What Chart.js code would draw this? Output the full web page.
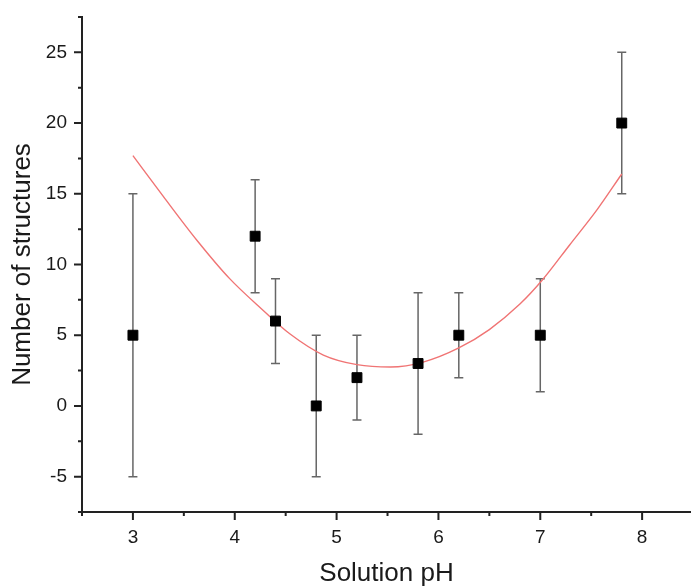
<!DOCTYPE html>
<html>
<head>
<meta charset="utf-8">
<script src="https://cdn.jsdelivr.net/npm/chart.js@4.4.1/dist/chart.umd.min.js"></script>
<style>
html,body{margin:0;padding:0;background:#fff;overflow:hidden;}
#wrap{width:691px;height:588px;}
</style>
</head>
<body>
<div id="wrap"><canvas id="c" width="691" height="588"></canvas></div>
<script>
// ---- data ----
const phValues = [3.0, 4.2, 4.4, 4.8, 5.2, 5.8, 6.2, 7.0, 7.8];
const structureCounts = [5, 12, 6, 0, 2, 3, 5, 5, 20];
const errorLow = [-5, 8, 3, -5, -1, -2, 2, 1, 15];
const errorHigh = [15, 16, 9, 5, 5, 8, 8, 9, 25];

// fitted curve
const fitX = [3.0, 3.3, 3.63, 3.95, 4.28, 4.54, 4.87, 5.2, 5.53, 5.85, 6.2, 6.5, 6.8, 7.02, 7.29, 7.56, 7.8];
const fitY = [17.7, 14.8, 11.7, 9.0, 6.75, 5.1, 3.6, 2.92, 2.75, 3.1, 4.1, 5.4, 7.2, 8.9, 11.4, 13.9, 16.4];

// axis tick labels
const xTickValues = [3, 4, 5, 6, 7, 8];
const yTickValues = [-5, 0, 5, 10, 15, 20, 25];
const xMinorTicks = [2.5, 3.5, 4.5, 5.5, 6.5, 7.5];
const yMinorTicks = [-7.5, -2.5, 2.5, 7.5, 12.5, 17.5, 22.5, 27.5];

const xTitle = 'Solution pH';
const yTitle = 'Number of structures';

const FONT = "'Liberation Sans', Arial, sans-serif";
const AXIS_COLOR = '#222';

const errorBarPlugin = {
  id: 'errorBars',
  beforeDatasetsDraw(chart) {
    const {ctx, scales: {x, y}} = chart;
    ctx.save();
    ctx.strokeStyle = '#666';
    ctx.lineWidth = 1.5;
    const cap = 4.5;
    phValues.forEach((v, i) => {
      const px = x.getPixelForValue(v);
      const pLo = y.getPixelForValue(errorLow[i]);
      const pHi = y.getPixelForValue(errorHigh[i]);
      ctx.beginPath();
      ctx.moveTo(px, pLo); ctx.lineTo(px, pHi);
      ctx.moveTo(px - cap, pLo); ctx.lineTo(px + cap, pLo);
      ctx.moveTo(px - cap, pHi); ctx.lineTo(px + cap, pHi);
      ctx.stroke();
    });
    ctx.restore();
  }
};

const tickMarkPlugin = {
  id: 'tickMarks',
  afterDraw(chart) {
    const {ctx, chartArea, scales: {x, y}} = chart;
    ctx.save();
    ctx.strokeStyle = AXIS_COLOR;
    ctx.lineWidth = 2;
    ctx.beginPath();
    const b = chartArea.bottom, l = chartArea.left;
    xTickValues.forEach(v => { const p = x.getPixelForValue(v); ctx.moveTo(p, b); ctx.lineTo(p, b + 8); });
    xMinorTicks.forEach(v => { const p = x.getPixelForValue(v); ctx.moveTo(p, b); ctx.lineTo(p, b + 4); });
    yTickValues.forEach(v => { const p = y.getPixelForValue(v); ctx.moveTo(l, p); ctx.lineTo(l - 8, p); });
    yMinorTicks.forEach(v => { const p = y.getPixelForValue(v); ctx.moveTo(l, p); ctx.lineTo(l - 4, p); });
    ctx.stroke();
    ctx.restore();
  }
};

function zeroPad(s) { s.paddingLeft = 0; s.paddingRight = 0; s.paddingTop = 0; s.paddingBottom = 0; }

new Chart(document.getElementById('c'), {
  type: 'scatter',
  data: {
    datasets: [
      {
        label: 'fit',
        data: fitX.map((v, i) => ({x: v, y: fitY[i]})),
        showLine: true,
        borderColor: '#f07474',
        borderWidth: 1.4,
        pointRadius: 0,
        cubicInterpolationMode: 'monotone',
        fill: false,
        order: 2
      },
      {
        label: 'data',
        data: phValues.map((v, i) => ({x: v, y: structureCounts[i]})),
        pointStyle: 'rect',
        pointRadius: 7,
        pointBackgroundColor: '#000',
        pointBorderColor: '#000',
        pointBorderWidth: 1,
        showLine: false,
        order: 1
      }
    ]
  },
  options: {
    responsive: false,
    animation: false,
    devicePixelRatio: 1,
    layout: {autoPadding: false, padding: {top: 17, left: 0, right: 0, bottom: 0}},
    plugins: {legend: {display: false}, tooltip: {enabled: false}},
    scales: {
      x: {
        type: 'linear',
        min: 2.5,
        max: 8.48,
        afterBuildTicks: s => { s.ticks = xTickValues.map(v => ({value: v})); },
        afterFit: s => { s.height = 76; zeroPad(s); },
        grid: {display: false, drawTicks: false},
        border: {display: true, color: AXIS_COLOR, width: 2},
        ticks: {
          color: '#1a1a1a',
          font: {family: FONT, size: 19},
          padding: 14,
          maxRotation: 0,
          autoSkip: false,
          callback: v => String(v)
        },
        title: {
          display: true,
          text: xTitle,
          color: '#1a1a1a',
          font: {family: FONT, size: 26, lineHeight: 1},
          padding: {top: 0, bottom: 1}
        }
      },
      y: {
        type: 'linear',
        min: -7.5,
        max: 27.5,
        afterBuildTicks: s => { s.ticks = yTickValues.map(v => ({value: v})); },
        afterFit: s => { s.width = 82; zeroPad(s); },
        grid: {display: false, drawTicks: false},
        border: {display: true, color: AXIS_COLOR, width: 2},
        ticks: {
          color: '#1a1a1a',
          font: {family: FONT, size: 19},
          padding: 15,
          autoSkip: false,
          callback: v => String(v)
        },
        title: {
          display: true,
          text: yTitle,
          color: '#1a1a1a',
          font: {family: FONT, size: 26, lineHeight: 1},
          padding: {top: 10, bottom: 0}
        }
      }
    }
  },
  plugins: [errorBarPlugin, tickMarkPlugin]
});
</script>
</body>
</html>
